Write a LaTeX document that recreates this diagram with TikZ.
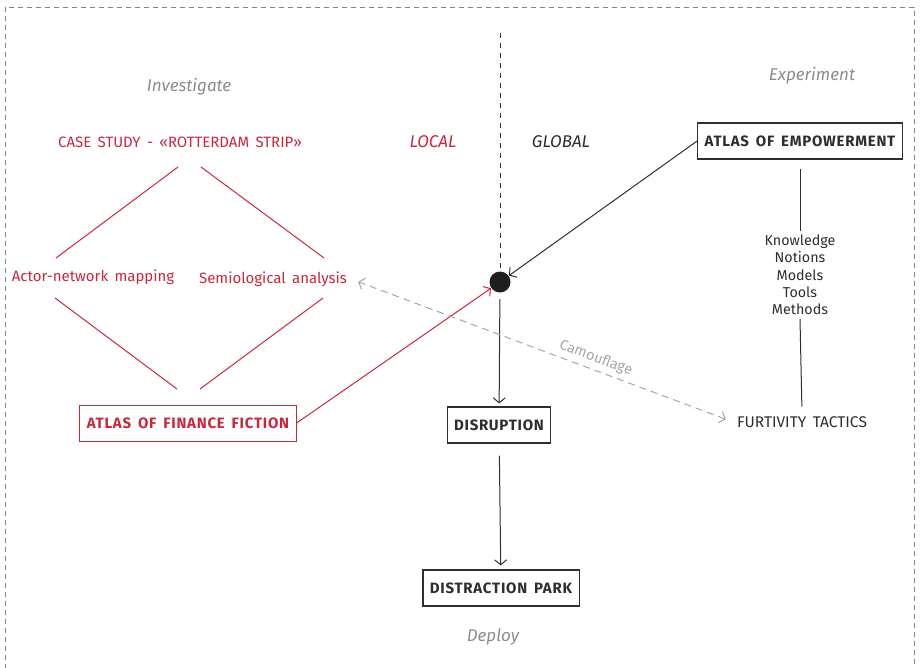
\documentclass[tikz,border=0pt]{standalone}
\usepackage{fontspec}
\setmainfont[WordSpace=1.6]{Fira Sans}
\usetikzlibrary{arrows.meta}
\definecolor{finred}{HTML}{C8283C}
\definecolor{phasegray}{HTML}{8C8C8C}
\definecolor{camogray}{HTML}{A6A6A6}
\definecolor{inkdark}{HTML}{2E2E2E}
\definecolor{framegreen}{HTML}{6E8E86}
\tikzset{
  phase/.style={font=\fontsize{17}{20}\selectfont\itshape, text=phasegray},
  redtext/.style={font=\fontsize{15}{18}\selectfont, text=finred},
  atlasbox/.style={draw, line width=1.1pt, inner xsep=7pt, minimum height=36pt,
    font=\fontsize{15}{18}\selectfont\bfseries\addfontfeatures{LetterSpace=5}},
  tip/.style={-{Straight Barb[length=5pt,width=12pt]}},
}
\begin{document}
\begin{tikzpicture}[x=1pt,y=-1pt,line width=1pt]
  \useasboundingbox (0,0) rectangle (921,667);
  \draw[framegreen, dash pattern=on 5pt off 4pt] (5,7) rectangle (914,700);
  % phases
  \node[phase] (investigate) at (189,87) {Investigate};
  \node[phase] (experiment) at (812,76) {Experiment};
  \node[phase] (deploy) at (493,637) {Deploy};
  \node[phase, text=finred] (local) at (433,142) {LOCAL};
  \node[phase, text=inkdark] (global) at (561,142) {GLOBAL};
  % investigate side
  \node[redtext] (case) at (180,142) {CASE STUDY - «ROTTERDAM STRIP»};
  \node[redtext] (actor) at (93,277) {Actor-network mapping};
  \node[redtext] (semio) at (273,279) {Semiological analysis};
  \node[atlasbox, draw=finred, text=finred, line width=0.9pt] (finance) at (188,423) {ATLAS OF FINANCE FICTION};
  \coordinate (ct1) at (178,167); \coordinate (al1) at (56,258);
  \coordinate (ct2) at (201,167); \coordinate (sr1) at (324,258);
  \coordinate (al2) at (55,298); \coordinate (fb1) at (177,389);
  \coordinate (sr2) at (323,298); \coordinate (fb2) at (200,389);
  \draw[finred] (ct1) -- (al1) (ct2) -- (sr1) (al2) -- (fb1) (sr2) -- (fb2);
  % centre
  \node[circle, fill=black!88, inner sep=0pt, minimum size=21pt] (hub) at (500,282) {};
  \draw[inkdark, dash pattern=on 5pt off 5pt] (500,33) -- (hub.north);
  \node[atlasbox, draw=inkdark, text=inkdark] (disruption) at (499,425) {DISRUPTION};
  \node[atlasbox, draw=inkdark, text=inkdark] (park) at (501,588) {DISTRACTION PARK};
  \draw[tip, inkdark, shorten <=6pt, shorten >=3pt] (hub) -- (disruption);
  \draw[tip, inkdark, shorten <=12pt, shorten >=4pt] (disruption) -- (park);
  \draw[tip, finred] (finance.east) -- (hub);
  % experiment side
  \node[atlasbox, draw=inkdark, text=inkdark] (empower) at (800,141) {ATLAS OF EMPOWERMENT};
  \draw[tip, inkdark] (empower.west) -- (hub);
  \node[align=center, text=inkdark, font=\fontsize{14.3}{17.3}\selectfont] (tools) at (800,275)
    {Knowledge\\Notions\\Models\\Tools\\Methods};
  \node[text=inkdark, font=\fontsize{15.5}{18}\selectfont] (furtive) at (802,422) {FURTIVITY TACTICS};
  \draw[inkdark] (empower.south) ++(0,9) -- (tools.north);
  \draw[inkdark, shorten >=6pt] (tools.south) -- (furtive.north);
  \draw[camogray, dash pattern=on 7pt off 5pt, {Straight Barb[length=5pt,width=12pt]}-{Straight Barb[length=5pt,width=12pt]},
    shorten <=8pt, shorten >=8pt] (furtive.west) -- (semio.east)
    node[pos=0.37, sloped, above=1pt, font=\fontsize{14.5}{17}\selectfont, text=camogray] {Camouflage};
\end{tikzpicture}
\end{document}
